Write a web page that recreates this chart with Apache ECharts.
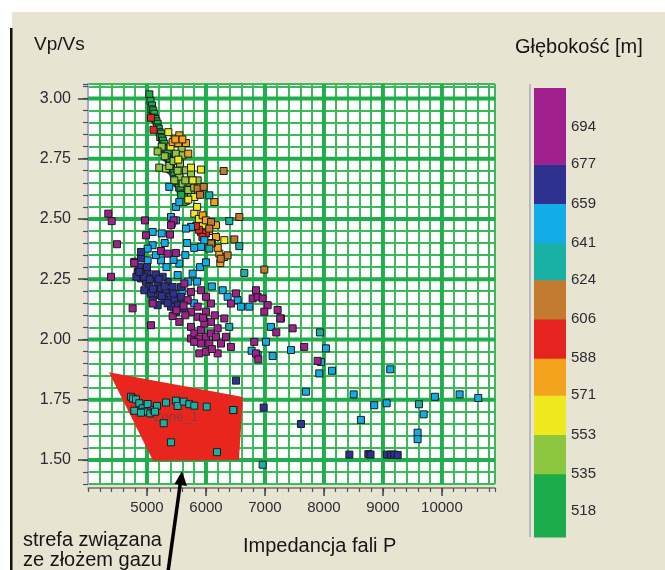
<!DOCTYPE html>
<html><head><meta charset="utf-8">
<script src="https://cdn.jsdelivr.net/npm/echarts@6/dist/echarts.min.js"></script>
<style>html,body{margin:0;padding:0;background:#fff}#c{width:665px;height:570px}</style>
</head><body><div id="c"></div>
<script>
// ---- axis ranges & ticks ----
const impedanceRange = [4000, 10900];
const vpvsRange = [1.40, 3.06];
const impedanceMajor = [5000, 6000, 7000, 8000, 9000, 10000];
const vpvsMajor = [1.50, 1.75, 2.00, 2.25, 2.50, 2.75, 3.00];
const depthTicks = [518, 535, 553, 571, 588, 606, 624, 641, 659, 677, 694];
const depthBandEdges = [506, 535, 553, 571, 588, 606, 624, 641, 659, 677, 712];
const depthColors = ['#1aab4b', '#8dc63f', '#efe81e', '#f4a31c', '#e5231f', '#c17a2e', '#19b1a6', '#12ade6', '#2f3191', '#a0218e'];

// ---- samples: [impedance, vp/vs] grouped by depth class ----
const depth520 = [[5040,3.017],[5060,2.99],[5085,2.971],[5075,2.955],[5105,2.95],[5124,2.937],[5110,2.92],[5140,2.915],[5160,2.905],[5181,2.895],[5170,2.88],[5200,2.875],[5215,2.86],[5237,2.854],[5225,2.84],[5255,2.835],[5270,2.825],[5294,2.812],[5285,2.795],[5310,2.79],[5330,2.78],[5350,2.771],[5340,2.755],[5370,2.745],[5390,2.735],[5407,2.722],[5395,2.705],[5430,2.70],[5450,2.69],[5463,2.681],[5480,2.665],[5500,2.655],[5520,2.647],[5545,2.63],[5570,2.62],[5605,2.605],[5630,2.59],[5660,2.575],[5580,2.60],[5620,2.57]];
const depth544 = [[5208,2.713],[5322,2.709],[5661,2.702],[5746,2.688],[5548,2.674],[5463,2.660],[5859,2.660],[5605,2.647],[5690,2.626],[5746,2.605],[5588,2.791],[5491,2.771],[5605,2.764],[6311,2.342],[5300,2.76],[5250,2.80],[5380,2.72],[5520,2.70],[5650,2.66],[5700,2.62],[5800,2.63],[5180,2.78],[5450,2.74],[5560,2.73]];
const depth562 = [[5362,2.860],[5531,2.746],[5746,2.713],[5915,2.705],[5774,2.660],[5802,2.591],[5802,2.522],[6311,2.412],[5700,2.58],[5850,2.55],[5880,2.50],[5950,2.47],[5400,2.80]];
const depth580 = [[5548,2.847],[5435,2.819],[5531,2.815],[5661,2.815],[5700,2.771],[6141,2.570],[5944,2.515],[6000,2.494],[6170,2.474],[6170,2.425],[6226,2.356],[6243,2.317],[5600,2.83],[6050,2.45],[6200,2.38],[6100,2.40],[5480,2.83]];
const depth597 = [[5068,2.92],[5110,2.87],[5774,2.467],[5915,2.446],[5972,2.432],[5880,2.455],[6000,2.44],[5940,2.425],[5830,2.47]];
const depth615 = [[6300,2.699],[5859,2.626],[5961,2.633],[6085,2.487],[6565,2.508],[6056,2.460],[6085,2.398],[6480,2.415],[6367,2.349],[6989,2.290],[6250,2.335],[5900,2.60]];
const depth632 = [[6056,2.598],[6395,2.491],[6565,2.387],[6650,2.276],[6056,2.377],[6395,2.052],[7932,2.029],[6463,1.707],[6961,1.480],[9610,1.731]];
const zonePoints632 = [[4729,1.762],[4760,1.755],[4814,1.751],[4870,1.735],[4785,1.704],[4927,1.714],[5011,1.732],[4955,1.700],[5056,1.693],[5113,1.707],[5169,1.724],[5136,1.700],[4898,1.696],[5322,1.738],[5491,1.746],[5520,1.724],[5622,1.742],[5717,1.731],[5802,1.725],[6012,1.721],[6463,1.707],[5283,1.652],[5407,1.573],[6187,1.532]];
const depth650 = [[5378,2.633],[5491,2.550],[5548,2.570],[5746,2.467],[5661,2.460],[5491,2.494],[5407,2.508],[5972,2.412],[5915,2.384],[5096,2.446],[5096,2.391],[5011,2.377],[5011,2.328],[5237,2.328],[5548,2.315],[5774,2.273],[5520,2.267],[6283,2.204],[6367,2.177],[6537,2.163],[6593,2.136],[6734,2.136],[7102,2.052],[7017,1.990],[7441,1.956],[8034,1.963],[6876,1.935],[7130,1.931],[7949,1.906],[7921,1.859],[8136,1.870],[7695,1.783],[8504,1.772],[8627,1.666],[8853,1.727],[9063,1.735],[9124,1.876],[9690,1.689],[9588,1.613],[9588,1.586],[9881,1.762],[10300,1.772],[10616,1.757],[6774,1.953],[5420,2.48],[5650,2.35],[5450,2.33],[5300,2.40],[5600,2.20],[5700,2.24],[5550,2.17],[5850,2.24],[5900,2.30],[6100,2.22],[5800,2.15],[6000,2.32],[5330,2.30],[5150,2.35],[5250,2.44],[5680,2.40],[5800,2.38]];
const depth668 = [[4785,2.322],[4898,2.336],[4842,2.280],[4927,2.287],[5011,2.273],[4898,2.253],[4983,2.239],[5096,2.253],[5181,2.232],[5039,2.218],[5124,2.204],[5237,2.211],[4955,2.204],[5209,2.184],[5322,2.197],[5378,2.177],[5294,2.163],[5463,2.163],[5576,2.177],[5520,2.142],[5407,2.136],[5605,2.129],[5491,2.115],[5096,2.163],[5181,2.142],[5068,2.191],[5350,2.239],[5266,2.260],[5435,2.218],[5576,2.218],[4870,2.30],[4950,2.26],[5050,2.25],[5150,2.27],[5000,2.30],[5100,2.21],[5300,2.22],[5250,2.18],[5350,2.15],[5450,2.19],[5200,2.25],[4820,2.26],[4898,2.363],[4870,2.280],[6508,1.829],[6978,1.717],[7610,1.649],[8431,1.522],[8753,1.524],[8790,1.522],[9068,1.522],[9136,1.522],[9192,1.522],[9250,1.520]];
const depth695 = [[4344,2.522],[4402,2.491],[4966,2.494],[5452,2.494],[5407,2.474],[4983,2.432],[5390,2.435],[4491,2.395],[5237,2.367],[5491,2.359],[5350,2.356],[4785,2.317],[4390,2.260],[4757,2.129],[5068,2.059],[5096,2.149],[5435,2.097],[5548,2.073],[5746,2.052],[5746,2.004],[5802,2.025],[5915,2.039],[5887,2.004],[6000,2.011],[6085,2.025],[6198,2.046],[6170,2.011],[6254,1.983],[6056,1.983],[5915,1.983],[5887,1.942],[6000,1.949],[6198,1.942],[6424,1.969],[6339,2.011],[6311,2.087],[6085,2.073],[5972,2.066],[5859,2.094],[6000,2.115],[5746,2.115],[5859,2.136],[6085,2.149],[6000,2.177],[5915,2.204],[5746,2.197],[5690,2.163],[5633,2.232],[6508,2.191],[6424,2.149],[6791,2.170],[6876,2.177],[6961,2.170],[7046,2.142],[7215,2.122],[7271,2.087],[6848,2.204],[6989,2.115],[7469,2.046],[6819,1.990],[7666,1.969],[6848,1.942],[6887,1.917],[7893,1.911],[7192,2.029],[7260,2.087],[5650,2.10],[5950,2.09],[6150,2.10],[5800,1.99],[6100,1.96],[5500,2.12],[5620,2.14]];

// ---- gas zone polygon ----
const zonePolygon = [[4356,1.864],[6627,1.761],[6559,1.500],[5102,1.496]];
const zoneLabel = { text: 'Zone_1', at: [5490, 1.678] };

const groups = [
  [depth520, 520], [depth544, 544], [depth562, 562], [depth580, 580], [depth597, 597],
  [depth615, 615], [depth632, 632], [zonePoints632, 632], [depth650, 650], [depth668, 668], [depth695, 695]
];
const scatterData = [];
groups.forEach(([arr, d]) => arr.forEach(p => scatterData.push([p[0], p[1], d])));

const pieces = [];
for (let i = 0; i < depthColors.length; i++) {
  const pc = { color: depthColors[i] };
  if (i > 0) pc.gte = depthBandEdges[i];
  if (i < depthColors.length - 1) pc.lt = depthBandEdges[i + 1];
  pieces.push(pc);
}
const bands = [];
for (let i = 0; i < depthColors.length; i++) bands.push([depthBandEdges[i], depthBandEdges[i + 1], i]);

const FONT = 'Liberation Sans, Arial, sans-serif';
const THIN = '#3cba5a', THICK = '#1fae4b';
const isMult = (v, step) => Math.abs(v / step - Math.round(v / step)) < 1e-6;

const chart = echarts.init(document.getElementById('c'), null, { renderer: 'canvas' });
chart.setOption({
  backgroundColor: '#e8e4d2',
  animation: false,
  grid: [
    { left: 88, top: 84, width: 407, height: 400, show: true, backgroundColor: '#ffffff', borderColor: '#c4c6d6', borderWidth: 1, outerBoundsMode: 'none' },
    { left: 534, top: 88, width: 32, height: 449, outerBoundsMode: 'none' }
  ],
  visualMap: { type: 'piecewise', show: false, dimension: 2, seriesIndex: 3, pieces: pieces },
  xAxis: [
    { type: 'value', gridIndex: 0, min: impedanceRange[0], max: impedanceRange[1], interval: 200, offset: 4,
      axisLine: { show: true, lineStyle: { color: '#707070', width: 1.5 } },
      axisTick: { show: true, length: 4, lineStyle: { color: '#505050', width: 1.2 } },
      axisLabel: { interval: 0, margin: 12, fontSize: 15, color: '#2b2b35', fontFamily: FONT,
        formatter: v => (isMult(v, 1000) && v > impedanceRange[0] + 1) ? String(Math.round(v)) : '' },
      splitLine: { show: true, lineStyle: { color: THIN, width: 2 } } },
    { type: 'value', gridIndex: 0, min: impedanceRange[0], max: impedanceRange[1], position: 'bottom', offset: 4,
      axisLine: { show: false },
      axisTick: { show: true, length: 8, customValues: impedanceMajor, lineStyle: { color: '#404040', width: 1.5 } },
      axisLabel: { show: false }, splitLine: { show: false } },
    { type: 'value', gridIndex: 1, min: 0, max: 1, show: false }
  ],
  yAxis: [
    { type: 'value', gridIndex: 0, min: vpvsRange[0], max: vpvsRange[1], interval: 0.05,
      axisLine: { show: true, lineStyle: { color: '#a9a5c8', width: 2 } },
      axisTick: { show: true, length: 5, lineStyle: { color: '#505050', width: 1.2 } },
      axisLabel: { interval: 0, margin: 17, fontSize: 16, color: '#2b2b35', fontFamily: FONT,
        formatter: v => isMult(v, 0.25) ? v.toFixed(2) : '' },
      splitLine: { show: true, lineStyle: { color: THIN, width: 2 } } },
    { type: 'value', gridIndex: 0, min: vpvsRange[0], max: vpvsRange[1], position: 'left',
      axisLine: { show: false },
      axisTick: { show: true, length: 10, customValues: vpvsMajor, lineStyle: { color: '#404040', width: 1.5 } },
      axisLabel: { show: false }, splitLine: { show: false } },
    { type: 'value', gridIndex: 1, min: depthBandEdges[0], max: depthBandEdges[depthBandEdges.length - 1], position: 'right',
      axisLine: { show: false }, axisTick: { show: false }, splitLine: { show: false },
      axisLabel: { show: true, customValues: depthTicks, margin: 5, fontSize: 15, color: '#2b2b35', fontFamily: FONT } }
  ],
  series: [
    { // thick vertical grid lines
      type: 'custom', xAxisIndex: 0, yAxisIndex: 0, z: 1, silent: true,
      data: impedanceMajor.map(v => [v]),
      renderItem: (params, api) => {
        const a = api.coord([api.value(0), vpvsRange[0]]), b = api.coord([api.value(0), vpvsRange[1]]);
        return { type: 'line', shape: { x1: a[0], y1: a[1], x2: b[0], y2: b[1] }, style: { stroke: THICK, lineWidth: 4 } };
      }
    },
    { // thick horizontal grid lines
      type: 'custom', xAxisIndex: 0, yAxisIndex: 0, z: 1, silent: true,
      data: vpvsMajor.map(v => [impedanceRange[0], v]),
      renderItem: (params, api) => {
        const a = api.coord([impedanceRange[0], api.value(1)]), b = api.coord([impedanceRange[1], api.value(1)]);
        return { type: 'line', shape: { x1: a[0], y1: a[1], x2: b[0], y2: b[1] }, style: { stroke: THICK, lineWidth: 4 } };
      }
    },
    { // gas zone polygon
      type: 'custom', xAxisIndex: 0, yAxisIndex: 0, z: 2, silent: true,
      data: zonePolygon,
      renderItem: (params, api) => {
        if (params.dataIndex !== 0) return null;
        const pts = zonePolygon.map(p => api.coord(p));
        const lp = api.coord(zoneLabel.at);
        return { type: 'group', children: [
          { type: 'polygon', shape: { points: pts }, style: { fill: '#e8261e' } },
          { type: 'text', x: lp[0], y: lp[1], style: { text: zoneLabel.text, fill: '#8a3a3a', font: '13px ' + FONT, textAlign: 'center', textVerticalAlign: 'middle' } }
        ] };
      }
    },
    { // samples
      type: 'scatter', xAxisIndex: 0, yAxisIndex: 0, z: 5,
      symbol: 'rect', symbolSize: 7,
      itemStyle: { borderColor: '#1b1b1b', borderWidth: 1, opacity: 1 },
      data: scatterData
    },
    { // colour bar
      type: 'custom', xAxisIndex: 2, yAxisIndex: 2, silent: true,
      data: bands,
      renderItem: (params, api) => {
        const p1 = api.coord([0, api.value(1)]), p2 = api.coord([1, api.value(0)]);
        return { type: 'rect', shape: { x: p1[0], y: p1[1], width: p2[0] - p1[0], height: p2[1] - p1[1] + 0.5 }, style: { fill: depthColors[api.value(2)] } };
      }
    }
  ],
  graphic: [
    { type: 'rect', shape: { x: 0, y: 0, width: 665, height: 12 }, style: { fill: '#ffffff' } },
    { type: 'rect', shape: { x: 0, y: 0, width: 12, height: 570 }, style: { fill: '#ffffff' } },
    { type: 'rect', shape: { x: 10, y: 28, width: 2.5, height: 542 }, style: { fill: '#111111' } },
    { type: 'line', shape: { x1: 530, y1: 84, x2: 530, y2: 537 }, style: { stroke: '#a8aec0', lineWidth: 1.5 } },
    { type: 'text', x: 34, y: 45, style: { text: 'Vp/Vs', fill: '#151515', font: '19px ' + FONT, textAlign: 'left', textVerticalAlign: 'middle' } },
    { type: 'text', x: 515, y: 47, style: { text: 'Głębokość [m]', fill: '#151515', font: '20px ' + FONT, textAlign: 'left', textVerticalAlign: 'middle' } },
    { type: 'text', x: 243, y: 546, style: { text: 'Impedancja fali P', fill: '#151515', font: '20px ' + FONT, textAlign: 'left', textVerticalAlign: 'middle' } },
    { type: 'text', x: 23, y: 540, style: { text: 'strefa związana', fill: '#151515', font: '20px ' + FONT, textAlign: 'left', textVerticalAlign: 'middle' } },
    { type: 'text', x: 23, y: 560, style: { text: 'ze złożem gazu', fill: '#151515', font: '20px ' + FONT, textAlign: 'left', textVerticalAlign: 'middle' } },
    { type: 'line', z: 100, shape: { x1: 168, y1: 572, x2: 180.5, y2: 482 }, style: { stroke: '#000', lineWidth: 3.5 } },
    { type: 'polygon', z: 100, shape: { points: [[182, 471], [187, 486], [174.5, 484]] }, style: { fill: '#000' } }
  ]
});
</script></body></html>
